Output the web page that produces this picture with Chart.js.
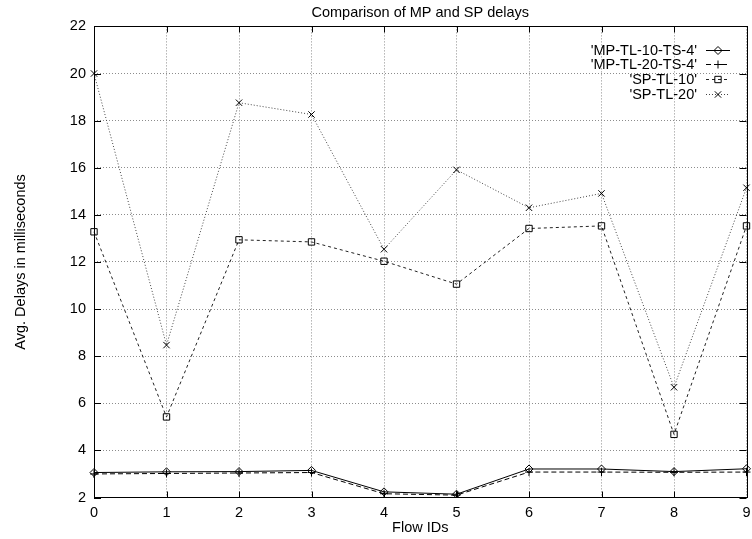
<!DOCTYPE html>
<html>
<head>
<meta charset="utf-8">
<title>Comparison of MP and SP delays</title>
<script src="https://cdn.jsdelivr.net/npm/chart.js@4/dist/chart.umd.min.js"></script>
<style>
  html, body { margin: 0; padding: 0; background: #ffffff; }
  canvas { display: block; }
</style>
</head>
<body>
<canvas id="chart" width="752" height="539"></canvas>
<script>
// Flow identifiers on the x axis
const flowIds = ['0', '1', '2', '3', '4', '5', '6', '7', '8', '9'];

// Average delay per flow (milliseconds)
const mpTl10Ts4 = [3.06, 3.09, 3.10, 3.15, 2.24, 2.14, 3.21, 3.21, 3.10, 3.22];
const mpTl20Ts4 = [3.00, 3.02, 3.04, 3.06, 2.16, 2.10, 3.08, 3.08, 3.07, 3.08];
const spTl10    = [13.28, 5.42, 12.94, 12.85, 12.03, 11.06, 13.42, 13.53, 4.68, 13.53];
const spTl20    = [20.00, 8.47, 18.76, 18.26, 12.54, 15.91, 14.30, 14.91, 6.68, 15.15];

// Y axis range and step
const yMin = 2;
const yMax = 22;
const yStep = 2;

const FONT = "'Liberation Sans', Arial, Helvetica, sans-serif";
const FONT_SIZE = 14.5;

// Frame, inward tick marks and a gnuplot-style key inside the top-right corner
const framePlugin = {
  id: 'frameAndKey',
  afterDatasetsDraw(chart) {
    const { ctx, chartArea: a, scales } = chart;
    ctx.save();
    ctx.strokeStyle = '#000';
    ctx.lineWidth = 1;
    ctx.setLineDash([]);

    // inward ticks on all four sides
    ctx.beginPath();
    const xs = scales.x;
    xs.ticks.forEach((t, i) => {
      const px = Math.round(xs.getPixelForTick(i)) + 0.5;
      ctx.moveTo(px, a.bottom); ctx.lineTo(px, a.bottom - 6);
      ctx.moveTo(px, a.top);    ctx.lineTo(px, a.top + 6);
    });
    const ys = scales.y;
    ys.ticks.forEach((t, i) => {
      const py = Math.round(ys.getPixelForTick(i)) + 0.5;
      ctx.moveTo(a.left, py);  ctx.lineTo(a.left + 7, py);
      ctx.moveTo(a.right, py); ctx.lineTo(a.right - 7, py);
    });
    ctx.stroke();

    // frame
    ctx.strokeRect(Math.round(a.left) + 0.5, Math.round(a.top) + 0.5,
                   Math.round(a.right - a.left), Math.round(a.bottom - a.top));

    // key
    const textRight = 697;
    const sampleL = 706, sampleR = 730;
    const rowY0 = 49.5, rowGap = 14.9;
    ctx.font = FONT_SIZE + 'px ' + FONT;
    ctx.textAlign = 'right';
    ctx.textBaseline = 'middle';
    chart.data.datasets.forEach((ds, i) => {
      const y = rowY0 + i * rowGap;
      ctx.fillStyle = '#000';
      ctx.fillText(ds.label, textRight, y + 1);
      ctx.save();
      ctx.strokeStyle = ds.borderColor;
      ctx.lineWidth = ds.borderWidth;
      ctx.setLineDash(ds.borderDash || []);
      ctx.beginPath();
      ctx.moveTo(sampleL, Math.round(y) + 0.5);
      ctx.lineTo(sampleR, Math.round(y) + 0.5);
      ctx.stroke();
      ctx.restore();
      ctx.save();
      ctx.strokeStyle = ds.pointBorderColor || ds.borderColor;
      ctx.fillStyle = 'rgba(0,0,0,0)';
      ctx.lineWidth = 1;
      Chart.helpers.drawPoint(ctx, {
        pointStyle: ds.pointStyle,
        radius: ds.pointRadius,
        borderWidth: 1,
        rotation: 0
      }, (sampleL + sampleR) / 2, Math.round(y) + 0.5);
      ctx.restore();
    });
    ctx.restore();
  }
};

const chart = new Chart(document.getElementById('chart'), {
  type: 'line',
  data: {
    labels: flowIds,
    datasets: [
      {
        label: "'MP-TL-10-TS-4'",
        data: mpTl10Ts4,
        borderColor: '#000',
        borderWidth: 1,
        borderDash: [],
        pointStyle: 'rectRot',
        pointRadius: 4,
        pointBorderColor: '#000',
        pointBackgroundColor: 'rgba(0,0,0,0)',
        pointBorderWidth: 1,
        tension: 0,
        fill: false
      },
      {
        label: "'MP-TL-20-TS-4'",
        data: mpTl20Ts4,
        borderColor: '#000',
        borderWidth: 1,
        borderDash: [5, 3],
        pointStyle: 'cross',
        pointRadius: 4,
        pointBorderColor: '#000',
        pointBackgroundColor: 'rgba(0,0,0,0)',
        pointBorderWidth: 1,
        tension: 0,
        fill: false
      },
      {
        label: "'SP-TL-10'",
        data: spTl10,
        borderColor: '#222',
        borderWidth: 1,
        borderDash: [3, 3],
        pointStyle: 'rect',
        pointRadius: 4.5,
        pointBorderColor: '#000',
        pointBackgroundColor: 'rgba(0,0,0,0)',
        pointBorderWidth: 1,
        tension: 0,
        fill: false
      },
      {
        label: "'SP-TL-20'",
        data: spTl20,
        borderColor: '#444',
        borderWidth: 1,
        borderDash: [1, 2],
        pointStyle: 'crossRot',
        pointRadius: 4.5,
        pointBorderColor: '#000',
        pointBackgroundColor: 'rgba(0,0,0,0)',
        pointBorderWidth: 1,
        tension: 0,
        fill: false
      }
    ]
  },
  options: {
    responsive: false,
    devicePixelRatio: 1,
    animation: false,
    layout: { padding: { left: 0, right: 3, top: 0, bottom: 0 } },
    plugins: {
      legend: { display: false },
      tooltip: { enabled: false },
      title: {
        display: true,
        fullSize: false,
        text: 'Comparison of MP and SP delays',
        color: '#000',
        font: { family: FONT, size: FONT_SIZE, weight: 'normal' },
        padding: { top: 4, bottom: 5 }
      }
    },
    scales: {
      x: {
        type: 'category',
        offset: false,
        grid: { color: '#8c8c8c', lineWidth: 1, drawTicks: false },
        border: { display: false, dash: [1, 2] },
        ticks: {
          color: '#000',
          padding: 7,
          maxRotation: 0,
          autoSkip: false,
          font: { family: FONT, size: FONT_SIZE }
        },
        title: {
          display: true,
          text: 'Flow IDs',
          color: '#000',
          font: { family: FONT, size: FONT_SIZE },
          padding: { top: 0, bottom: 2 }
        },
        afterFit(scale) {
          scale.height = 41.5;
          scale.paddingLeft = 0;
          scale.paddingRight = 0;
        }
      },
      y: {
        min: yMin,
        max: yMax,
        grid: { color: '#8c8c8c', lineWidth: 1, drawTicks: false },
        border: { display: false, dash: [1, 2] },
        ticks: {
          stepSize: yStep,
          color: '#000',
          padding: 8,
          font: { family: FONT, size: FONT_SIZE }
        },
        title: {
          display: true,
          text: 'Avg. Delays in milliseconds',
          color: '#000',
          font: { family: FONT, size: FONT_SIZE },
          padding: { top: 12, bottom: 0 }
        },
        afterFit(scale) { scale.width = 94; }
      }
    }
  },
  plugins: [framePlugin]
});
</script>
</body>
</html>
